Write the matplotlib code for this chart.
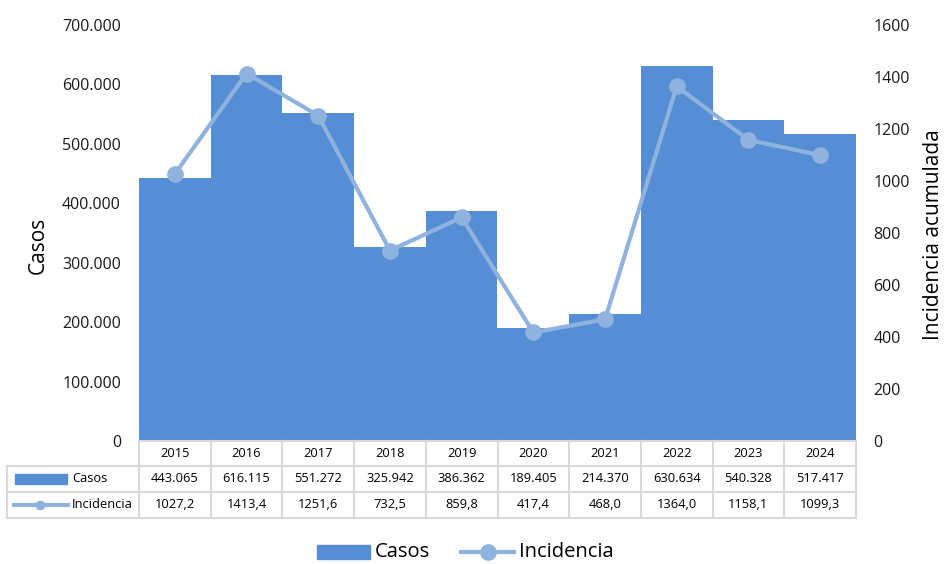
import matplotlib
matplotlib.use("Agg")
import matplotlib.pyplot as plt
from matplotlib.lines import Line2D
from matplotlib.patches import Rectangle
from matplotlib.ticker import FuncFormatter, MultipleLocator

years = ["2015", "2016", "2017", "2018", "2019", "2020", "2021", "2022", "2023", "2024"]
casos = [443065, 616115, 551272, 325942, 386362, 189405, 214370, 630634, 540328, 517417]
incidencia = [1027.2, 1413.4, 1251.6, 732.5, 859.8, 417.4, 468.0, 1364.0, 1158.1, 1099.3]

BAR = "#558ED5"
LINE = "#8FB3DE"
GRID = "#D9D9D9"
FONT = "Open Sans"

plt.rcParams['font.family'] = [FONT, 'DejaVu Sans']

W, H = 945, 564
fig = plt.figure(figsize=(W / 100, H / 100), dpi=100)
x0, x1, ytop, ybot = 139, 856, 25, 441
ax = fig.add_axes([x0 / W, (H - ybot) / H, (x1 - x0) / W, (ybot - ytop) / H])
ax2 = ax.twinx()

xs = list(range(len(years)))
ax.bar(xs, casos, width=1.0, color=BAR, zorder=1)
ax.set_xlim(-0.5, len(years) - 0.5)
ax.set_ylim(0, 700000)
ax.yaxis.set_major_locator(MultipleLocator(100000))


def fmt_thousands(v, pos):
    v = int(round(v))
    if v == 0:
        return "0"
    return f"{v:,}".replace(",", ".")


ax.yaxis.set_major_formatter(FuncFormatter(fmt_thousands))
ax.set_xticks([])

ax2.plot(xs, incidencia, color=LINE, lw=3, marker="o", ms=11, zorder=3)
ax2.set_ylim(0, 1600)
ax2.yaxis.set_major_locator(MultipleLocator(200))

for a in (ax, ax2):
    for s in a.spines.values():
        s.set_visible(False)
    a.tick_params(axis="y", length=0, labelsize=11.5, colors="#1a1a1a")
ax.tick_params(axis="y", pad=13)
ax2.tick_params(axis="y", pad=12.5)

fig.text(38 / W, 1 - 245 / H, "Casos", rotation=90, ha="center", va="center", fontsize=15)
fig.text(934 / W, 1 - 235 / H, "Incidencia acumulada", rotation=90, ha="center", va="center", fontsize=15)

# ---- data table ----
col_w = (x1 - x0) / len(years)
rows_y = [441, 466, 492, 518]
lbl_x0 = 7
lw_grid = 1.5


def px(x, y):
    return x / W, 1 - y / H


def hline(xa, xb, y):
    fig.add_artist(Line2D([xa / W, xb / W], [1 - y / H, 1 - y / H], color=GRID, lw=lw_grid))


def vline(x, ya, yb):
    fig.add_artist(Line2D([x / W, x / W], [1 - ya / H, 1 - yb / H], color=GRID, lw=lw_grid))


hline(x0, x1, rows_y[0])
hline(lbl_x0, x1, rows_y[1])
hline(lbl_x0, x1, rows_y[2])
hline(lbl_x0, x1, rows_y[3])
vline(lbl_x0, rows_y[1], rows_y[3])
for i in range(len(years) + 1):
    vline(x0 + i * col_w, rows_y[0], rows_y[3])

TS = 9.3
for i, yr in enumerate(years):
    cx = x0 + (i + 0.5) * col_w
    fig.text(*px(cx, (rows_y[0] + rows_y[1]) / 2), yr, ha="center", va="center", fontsize=TS)
    fig.text(*px(cx, (rows_y[1] + rows_y[2]) / 2), fmt_thousands(casos[i], None),
             ha="center", va="center", fontsize=TS)
    fig.text(*px(cx, (rows_y[2] + rows_y[3]) / 2), f"{incidencia[i]:.1f}".replace(".", ","),
             ha="center", va="center", fontsize=TS)

# row keys
yc1 = (rows_y[1] + rows_y[2]) / 2
yc2 = (rows_y[2] + rows_y[3]) / 2
fig.add_artist(Rectangle(px(15, yc1 + 5), 52 / W, 10 / H, color=BAR, transform=fig.transFigure))
fig.text(*px(72, yc1), "Casos", ha="left", va="center", fontsize=TS)
fig.add_artist(Line2D([14 / W, 68 / W], [1 - yc2 / H] * 2, color=LINE, lw=3))
fig.add_artist(Line2D([40 / W], [1 - yc2 / H], color=LINE, marker="o", ms=6, lw=0))
fig.text(*px(72, yc2), "Incidencia", ha="left", va="center", fontsize=TS)

# ---- bottom legend ----
ly = 552
fig.add_artist(Rectangle(px(317, ly + 7), 53 / W, 14 / H, color=BAR, transform=fig.transFigure))
fig.text(*px(375, ly), "Casos", ha="left", va="center", fontsize=14.5)
fig.add_artist(Line2D([461 / W, 514 / W], [1 - ly / H] * 2, color=LINE, lw=3))
fig.add_artist(Line2D([488 / W], [1 - ly / H], color=LINE, marker="o", ms=11, lw=0))
fig.text(*px(519, ly), "Incidencia", ha="left", va="center", fontsize=14.5)

fig.savefig("out.png", dpi=100)
